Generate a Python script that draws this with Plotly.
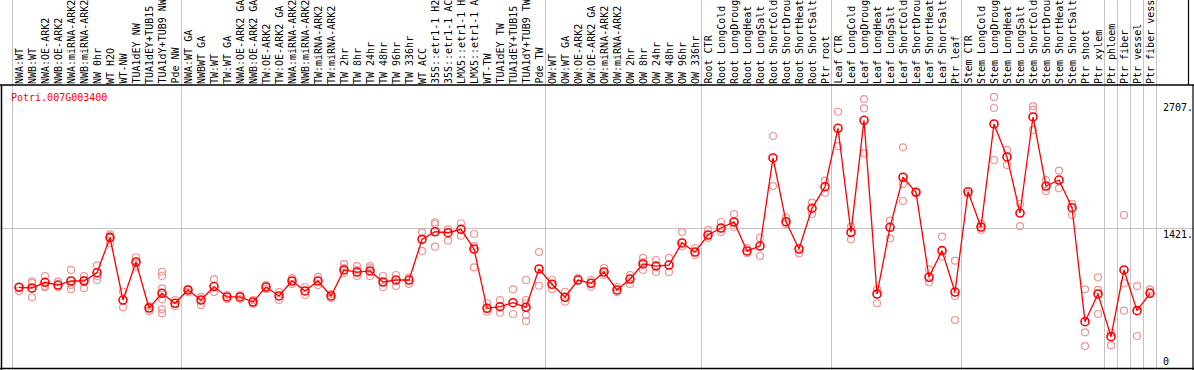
import plotly.graph_objects as go

# ---------------- data ----------------
labels = ["NWA:WT", "NWB:WT", "NWA:OE-ARK2", "NWB:OE-ARK2", "NWA:miRNA-ARK2", "NWB:miRNA-ARK2",
          "NW 0hr", "WT H2O", "WT-NW", "TUA1dEY NW", "TUA1dEY+TUB15", "TUA1dY+TUB9 NW", "Pde NW",
          "NWA:WT GA", "NWBWT GA", "TW:WT", "TW:WT GA", "NWA:OE-ARK2 GA", "NWB:OE-ARK2 GA",
          "TW:OE-ARK2", "TW:OE-ARK2 GA", "NWA:miRNA-ARK2", "NWB:miRNA-ARK2", "TW:miRNA-ARK2",
          "TW:miRNA-ARK2", "TW 2hr", "TW 8hr", "TW 24hr", "TW 48hr", "TW 96hr", "TW 336hr", "WT ACC",
          "35S::etr1-1 H2", "35S::etr1-1 AC", "LMX5::etr1-1 H", "LMX5::etr1-1 A", "WT-TW",
          "TUA1dEY TW", "TUA1dEY+TUB15", "TUA1dY+TUB9 TW", "Pde TW",
          "OW:WT", "OW:WT GA", "OW:OE-ARK2", "OW:OE-ARK2 GA", "OW:miRNA-ARK2", "OW:miRNA-ARK2",
          "OW 2hr", "OW 8hr", "OW 24hr", "OW 48hr", "OW 96hr", "OW 336hr",
          "Root CTR", "Root LongCold", "Root LongDroug", "Root LongHeat", "Root LongSalt",
          "Root ShortCold", "Root ShortDrou", "Root ShortHeat", "Root ShortSalt", "Ptr root",
          "Leaf CTR", "Leaf LongCold", "Leaf LongDroug", "Leaf LongHeat", "Leaf LongSalt",
          "Leaf ShortCold", "Leaf ShortDrou", "Leaf ShortHeat", "Leaf ShortSalt", "Ptr leaf",
          "Stem CTR", "Stem LongCold", "Stem LongDroug", "Stem LongHeat", "Stem LongSalt",
          "Stem ShortCold", "Stem ShortDrou", "Stem ShortHeat", "Stem ShortSalt", "Ptr shoot",
          "Ptr xylem", "Ptr phloem", "Ptr fiber", "Ptr vessel", "Ptr fiber vess"]

means = [819, 812, 870, 842, 883, 883, 967, 1323, 690, 1076, 609, 758, 657,
         792, 690, 827, 721, 721, 670, 822, 731, 883, 782, 883, 731, 995, 974, 985, 873, 893, 893,
         1306, 1383, 1373, 1408, 1208, 606, 622, 663, 616, 1005,
         850, 718, 893, 860, 974, 792, 903, 1056, 1035, 1045, 1269, 1177,
         1350, 1421, 1482, 1188, 1238, 2132, 1485, 1208, 1621, 1840,
         2433, 1377, 2514, 751, 1428, 1936, 1783, 921, 1191, 771,
         1789, 1431, 2477, 2142, 1573, 2548, 1847, 1908, 1627, 470, 751,
         318, 995, 582, 758]

replicates = [
    [822, 782], [876, 863, 718], [934, 832, 819], [876, 819], [995, 842, 799], [934, 893, 809],
    [1042, 934, 893], [1357, 1340, 1266], [774, 616], [1124, 1028], [629, 579],
    [977, 934, 809, 697, 596, 555], [690, 629],
    [802, 771], [721, 639], [903, 771], [741, 700], [741, 700], [690, 650], [842, 802],
    [771, 690], [913, 852], [822, 741], [924, 842], [751, 710], [1056, 1015, 964],
    [1035, 995, 934], [1035, 1015, 934], [934, 822], [944, 832], [921, 853], [1377, 1188],
    [1479, 1459, 1231], [1408, 1292], [1469, 1343], [1360, 1238, 1022], [657, 571], [690, 561],
    [799, 548], [893, 690, 657, 538, 477], [1177, 835],
    [893, 802], [774, 673], [913], [893, 825], [1015, 944], [822, 771], [944, 853],
    [1117, 1076, 995], [1096, 974], [1117, 974], [1380, 1238], [1218, 1147],
    [1401, 1320], [1482, 1380], [1563, 1431], [1218, 1167], [1320, 1137], [2355, 1847],
    [1530, 1462], [1164], [1678, 1563], [1901, 1779],
    [2601, 2253], [1434, 1306], [2730, 2636, 2179], [799, 657], [1495, 1316], [2240, 1868, 1695],
    [1789], [1002, 870], [1333, 1130], [1089, 731, 487],
    [1766], [1462, 1401], [2751, 2639, 2111], [2213, 2060], [1665, 1441], [2659, 2619, 2416],
    [1908, 1797], [2003, 1824], [1665, 1553], [799, 362, 223], [921, 792, 548],
    [358, 230], [1553, 860, 582], [832, 325], [799, 774]]

group_ends = [0, 13, 41, 53, 63, 73, 84, 85, 86, 87, 88]
gene_name = "Potri.007G003400"
axis_marks = [2707, 1421, 0]

# ---------------- layout constants ----------------
W, H = 1194, 370
PX_STEP = 13.0          # pixels per sample
FIRST_PX = 19.0         # pixel of first sample
ZERO_PX = 368.0         # pixel row of value 0
K = 140.0 / 1421.0      # pixels per unit
HEADER_PX = 85.0

x_range = [1 - FIRST_PX / PX_STEP, 1 + (W - FIRST_PX) / PX_STEP]
y_range = [-(H - ZERO_PX) / K, ZERO_PX / K]
header_val = (ZERO_PX - HEADER_PX) / K

xs = list(range(1, len(labels) + 1))
rep_x, rep_y = [], []
for x, reps in zip(xs, replicates):
    for v in reps:
        rep_x.append(x)
        rep_y.append(v)

FONT = "DejaVu Sans Mono"

fig = go.Figure()
fig.add_trace(go.Scatter(
    x=rep_x, y=rep_y, mode="markers",
    marker=dict(symbol="circle-open", size=7, color="#f09494", line=dict(width=1.2, color="#f09494")),
    hoverinfo="skip", showlegend=False))
fig.add_trace(go.Scatter(
    x=xs, y=means, mode="lines+markers",
    line=dict(color="#ff0000", width=1.3),
    marker=dict(symbol="circle-open", size=8, color="#ff0000", line=dict(width=1.6, color="#ee0000")),
    showlegend=False))

ann = []
for x, lab in zip(xs, labels):
    ann.append(dict(x=x, y=header_val, xref="x", yref="y", text=lab, textangle=-90,
                    showarrow=False, xanchor="center", yanchor="bottom", yshift=0,
                    borderpad=0, font=dict(family=FONT, size=10, color="#000000")))
ann.append(dict(x=10 / W, y=1 - 97 / H, xref="paper", yref="paper", text=gene_name,
                showarrow=False, xanchor="left", yanchor="middle", borderpad=0,
                font=dict(family=FONT, size=10, color="#ff0000")))
for v in axis_marks:
    ann.append(dict(x=1162 / W, y=v, xref="paper", yref="y", text=(f"{v}." if v else "0"),
                    showarrow=False, xanchor="left", yanchor=("top" if v else "bottom"),
                    borderpad=0, font=dict(family=FONT, size=10, color="#000000")))

shapes = [
    dict(type="line", xref="paper", yref="y", x0=0, x1=1, y0=header_val, y1=header_val,
         line=dict(color="#000000", width=1.5)),
    dict(type="line", xref="paper", yref="paper", x0=1.5 / W, x1=1.5 / W, y0=0, y1=1 - HEADER_PX / H,
         line=dict(color="#000000", width=1.5)),
    dict(type="line", xref="paper", yref="paper", x0=0, x1=1, y0=1.5 / H, y1=1.5 / H,
         line=dict(color="#000000", width=1.5)),
    dict(type="line", xref="paper", yref="paper", x0=1188.5 / W, x1=1188.5 / W, y0=1 - HEADER_PX / H, y1=1,
         line=dict(color="#000000", width=1.2)),
    dict(type="line", xref="paper", yref="paper", x0=1193 / W, x1=1193 / W, y0=0, y1=1 - HEADER_PX / H,
         line=dict(color="#000000", width=1.2)),
]

fig.update_layout(
    width=W, height=H, margin=dict(l=0, r=0, t=0, b=0),
    paper_bgcolor="white", plot_bgcolor="white",
    xaxis=dict(range=x_range, tickvals=[e + 0.5 for e in group_ends], showticklabels=False,
               ticks="", showgrid=True, gridcolor="#c4c4c4", gridwidth=1, zeroline=False,
               showline=False, fixedrange=True),
    yaxis=dict(range=y_range, tickvals=[1421], showticklabels=False, ticks="",
               showgrid=True, gridcolor="#c4c4c4", gridwidth=1, zeroline=False,
               showline=False, fixedrange=True),
    annotations=ann, shapes=shapes, showlegend=False,
)

fig.write_html("out.html", config={"displayModeBar": False},
               post_script="document.body.style.margin='0px';document.body.style.overflow='hidden';")
